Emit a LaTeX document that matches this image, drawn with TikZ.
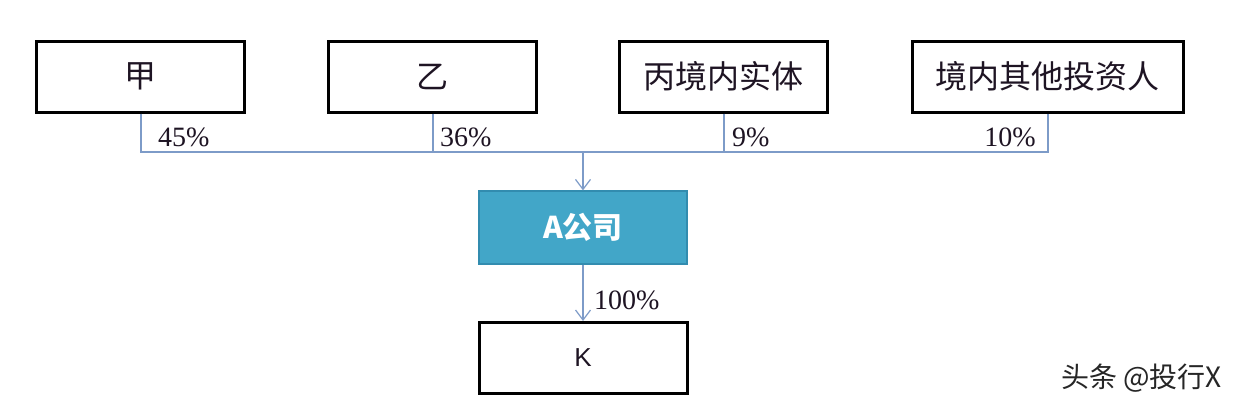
\documentclass[tikz,border=0pt]{standalone}
\usepackage{fontspec}
\usetikzlibrary{arrows.meta}
\newfontfamily\cjk{Noto Sans CJK SC}
\newfontfamily\pctfont{Liberation Serif}
\newfontfamily\kfont{Liberation Sans}
\definecolor{linec}{RGB}{125,155,200}
\definecolor{afill}{RGB}{66,166,200}
\definecolor{adraw}{RGB}{50,140,175}
\definecolor{txt}{RGB}{30,20,35}
\begin{document}
\begin{tikzpicture}[x=1pt,y=-1pt,
  ownbox/.style={draw=black,line width=3pt,fill=white,minimum width=208pt,minimum height=71pt,inner sep=0pt,text=txt,font=\cjk\fontsize{32}{34}\selectfont},
  conn/.style={draw=linec,line width=1.2pt},
  arr/.style={conn,-{Straight Barb[length=10pt,width=15pt,line width=1.2pt]}},
  pct/.style={inner sep=0pt,font=\pctfont\fontsize{28}{30}\selectfont,text=txt}]
\useasboundingbox (0,0) rectangle (1234,408);
\fill[white] (0,0) rectangle (1234,408);
\node[ownbox] (jia) at (140.5,76.5) {甲};
\node[ownbox] (yi) at (432,76.5) {乙};
\node[ownbox] (bing) at (723,76.5) {丙境内实体};
\node[ownbox,minimum width=271pt] (other) at (1047.5,76.5) {境内其他投资人};
\node[draw=adraw,line width=1.2pt,fill=afill,minimum width=208pt,minimum height=73pt,inner sep=0pt,text=white,font=\cjk\bfseries\fontsize{30}{32}\selectfont] (A) at (583,227.5) {A公司};
\node[ownbox,font=\kfont\fontsize{26}{28}\selectfont] (K) at (583,358) {K};
\coordinate (hj) at (141,152);
\coordinate (hy) at (433,152);
\coordinate (hb) at (724,152);
\coordinate (ho) at (1048,152);
\coordinate (hm) at (583,152);
\draw[conn] (jia.south -| hj) -- (hj) -- (ho) -- (other.south -| ho);
\draw[conn] (yi.south -| hy) -- (hy);
\draw[conn] (bing.south -| hb) -- (hb);
\draw[arr] (hm) -- (A.north);
\draw[arr] (A.south) -- (K.north);
\node[pct,anchor=base west] (p45) at (158,146) {45\%};
\node[pct,anchor=base west] (p36) at (440,146) {36\%};
\node[pct,anchor=base west] (p9) at (732,146) {9\%};
\node[pct,anchor=base east] (p10) at (1036,146) {10\%};
\node[pct,anchor=base west] (p100) at (594,309) {100\%};
\node[anchor=base east,inner sep=0pt,font=\cjk\fontsize{28}{30}\selectfont,text=black!85] (wm) at (1222,387) {头条 @投行X};
\end{tikzpicture}
\end{document}
